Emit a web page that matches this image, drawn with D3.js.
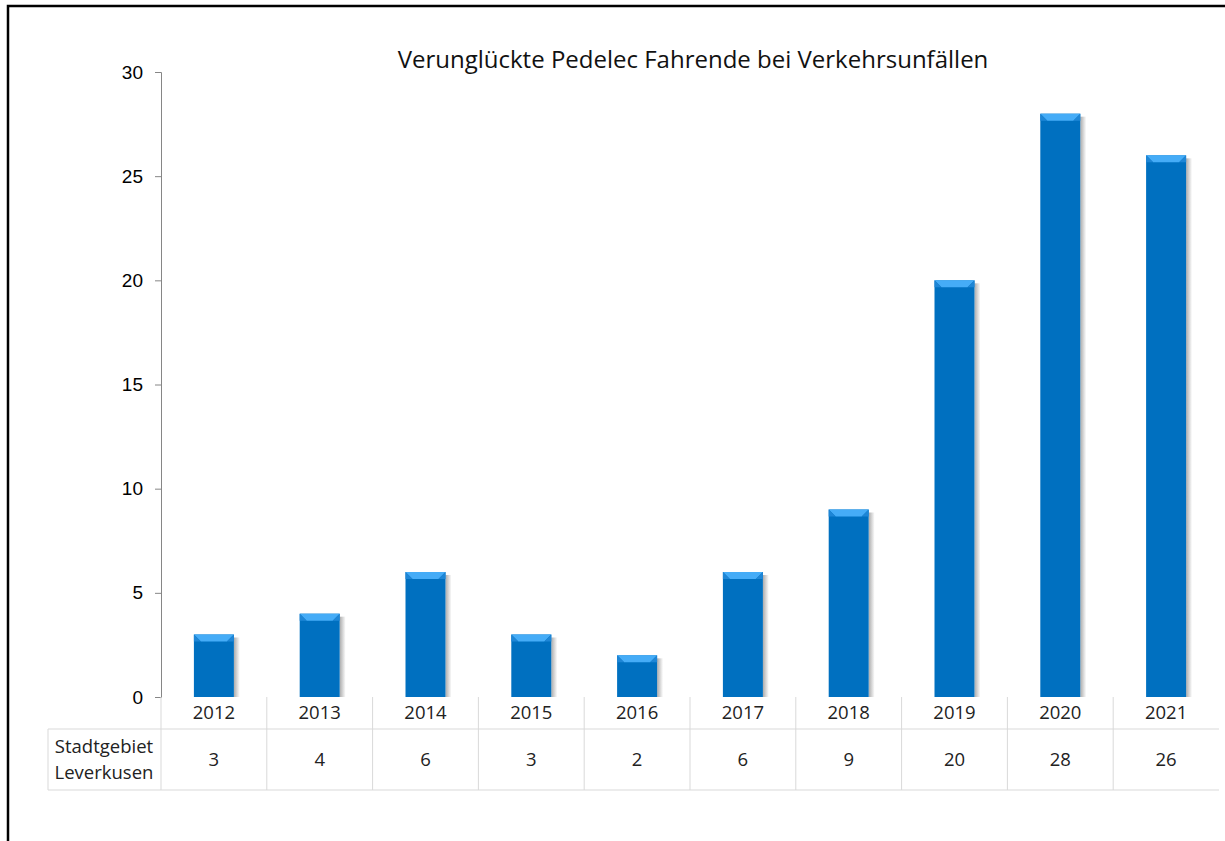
<!DOCTYPE html>
<html>
<head>
<meta charset="utf-8">
<script src="https://cdn.jsdelivr.net/npm/d3@7"></script>
<style>
  body { margin: 0; background: #fff; }
  svg { display: block; }
  .axis text { font-family: "Liberation Sans", Arial, sans-serif; font-size: 19px; fill: #000; }
  .tbl { font-family: "Open Sans", "Noto Sans", sans-serif; font-size: 18.5px; fill: #222; }
</style>
</head>
<body>
<svg width="1225" height="841"></svg>
<script>
const years = ["2012","2013","2014","2015","2016","2017","2018","2019","2020","2021"];
const values = [3, 4, 6, 3, 2, 6, 9, 20, 28, 26];
const yTicks = [0, 5, 10, 15, 20, 25, 30];
const seriesName = ["Stadtgebiet", "Leverkusen"];
const title = "Verunglückte Pedelec Fahrende bei Verkehrsunfällen";

const svg = d3.select("svg"),
    margin = {top: 72, right: 6, bottom: 144, left: 161},
    width = 1225 - margin.left - margin.right,
    height = 841 - margin.top - margin.bottom;

// frame
svg.append("path")
    .attr("d", "M8,841 L8,6 L1225,6")
    .attr("fill", "none")
    .attr("stroke", "#000")
    .attr("stroke-width", 2.5);

const defs = svg.append("defs");
const shade = defs.append("linearGradient").attr("id", "shade");
shade.append("stop").attr("offset", "0%").attr("stop-color", "#888").attr("stop-opacity", 0.7);
shade.append("stop").attr("offset", "100%").attr("stop-color", "#888").attr("stop-opacity", 0);

const g = svg.append("g").attr("transform", "translate(" + margin.left + "," + margin.top + ")");

const x = d3.scaleBand().domain(years).range([0, width]).paddingInner(0).paddingOuter(0);
const y = d3.scaleLinear().domain([0, 30]).range([height, 0]);

// title
svg.append("text")
    .attr("x", 693)
    .attr("y", 68)
    .attr("text-anchor", "middle")
    .attr("font-family", "'Open Sans', 'Noto Sans', sans-serif")
    .attr("font-size", 24)
    .attr("fill", "#111")
    .text(title);

// y axis
const yAxis = g.append("g")
    .attr("class", "axis")
    .call(d3.axisLeft(y).tickValues(yTicks).tickSize(6).tickPadding(12));
yAxis.select(".domain").attr("stroke", "#868686");
yAxis.selectAll(".tick line").attr("stroke", "#868686");

// bars
const bw = 40;
const bev = 7;
const bars = g.selectAll(".bar").data(values).enter().append("g")
    .attr("class", "bar")
    .attr("transform", (d, i) => "translate(" + (x(years[i]) + x.bandwidth() / 2 - bw / 2) + ",0)");

bars.append("rect")
    .attr("x", bw)
    .attr("y", d => y(d) + 3)
    .attr("width", 6)
    .attr("height", d => height - y(d) - 3)
    .attr("fill", "url(#shade)");

bars.append("rect")
    .attr("x", 0)
    .attr("y", d => y(d))
    .attr("width", bw)
    .attr("height", d => height - y(d))
    .attr("fill", "#0070C0");

bars.append("path")
    .attr("d", d => "M0," + y(d) + " L" + bw + "," + y(d) + " L" + (bw - bev) + "," + (y(d) + bev) + " L" + bev + "," + (y(d) + bev) + " Z")
    .attr("fill", "#45ACF7");

bars.append("path")
    .attr("d", d => "M0," + y(d) + " L" + bev + "," + (y(d) + bev) + " L0," + (y(d) + bev) + " Z M" + bw + "," + y(d) + " L" + (bw - bev) + "," + (y(d) + bev) + " L" + bw + "," + (y(d) + bev) + " Z")
    .attr("fill", "#1E86D6");

// data table
const tbl = svg.append("g");
const rowTop = margin.top + height;
const row1 = rowTop + 32, row2 = rowTop + 93;
const gridCol = "#d9d9d9";

tbl.append("line").attr("x1", 48).attr("x2", margin.left + width).attr("y1", row1).attr("y2", row1).attr("stroke", gridCol);
tbl.append("line").attr("x1", 48).attr("x2", margin.left + width).attr("y1", row2).attr("y2", row2).attr("stroke", gridCol);
tbl.append("line").attr("x1", 48).attr("x2", 48).attr("y1", row1).attr("y2", row2).attr("stroke", gridCol);

tbl.selectAll(".vline").data(years).enter().append("line")
    .attr("x1", d => margin.left + x(d))
    .attr("x2", d => margin.left + x(d))
    .attr("y1", rowTop)
    .attr("y2", row2)
    .attr("stroke", gridCol);

tbl.selectAll(".yr").data(years).enter().append("text")
    .attr("class", "tbl")
    .attr("x", d => margin.left + x(d) + x.bandwidth() / 2)
    .attr("y", (rowTop + row1) / 2)
    .attr("dy", "0.35em")
    .attr("text-anchor", "middle")
    .text(d => d);

tbl.selectAll(".val").data(values).enter().append("text")
    .attr("class", "tbl")
    .attr("x", (d, i) => margin.left + x(years[i]) + x.bandwidth() / 2)
    .attr("y", (row1 + row2) / 2)
    .attr("dy", "0.35em")
    .attr("text-anchor", "middle")
    .text(d => d);

tbl.selectAll(".lbl").data(seriesName).enter().append("text")
    .attr("class", "tbl")
    .attr("x", 104)
    .attr("y", (d, i) => (row1 + row2) / 2 - 13 + i * 26)
    .attr("dy", "0.35em")
    .attr("text-anchor", "middle")
    .text(d => d);
</script>
</body>
</html>
